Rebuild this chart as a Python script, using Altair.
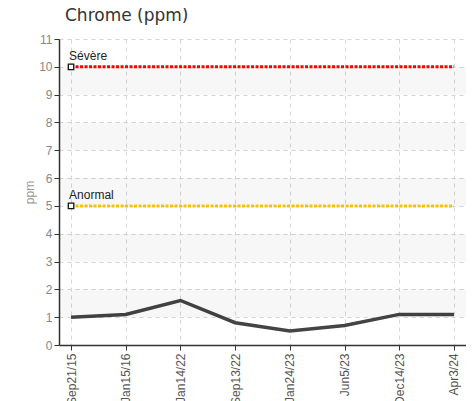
import altair as alt
import pandas as pd

dates = ["Sep21/15", "Jan15/16", "Jan14/22", "Sep13/22", "Jan24/23", "Jun5/23", "Dec14/23", "Apr3/24"]
values = [1.0, 1.1, 1.6, 0.8, 0.5, 0.7, 1.1, 1.1]
limit_names = ["Sévère", "Anormal"]
limit_values = [10, 5]
limit_colors = ["#ff0000", "#f5c400"]
band_lo = [1, 3, 5, 7, 9]
band_hi = [2, 4, 6, 8, 10]
y_ticks = [0, 1, 2, 3, 4, 5, 6, 7, 8, 9, 10, 11]

NARROW = "Liberation Sans Narrow, Liberation Sans, sans-serif"

df = pd.DataFrame({"date": dates, "value": values})
bands = pd.DataFrame({"value": band_lo, "hi": band_hi})
lim_rows = [{"name": n, "value": v, "date": d} for n, v in zip(limit_names, limit_values) for d in dates]
lim_df = pd.DataFrame(lim_rows)
lim_first = pd.DataFrame({"name": limit_names, "value": limit_values, "date": [dates[0]] * len(limit_names)})

xscale = alt.Scale(type="point", domain=dates, padding=0.22)
yscale = alt.Scale(domain=[0, 11], nice=False, zero=True)

x_axis = alt.Axis(
    title=None, labelAngle=270, labelAlign="right", labelBaseline="middle",
    labelFont=NARROW, labelFontSize=12, labelColor="#555", labelPadding=3,
    tickSize=5, tickColor="#333", domainColor="#333", domainWidth=1.5,
    grid=True, gridDash=[4, 4], gridColor="#d6d6d6", labelOverlap=False,
)
y_axis = alt.Axis(
    title="ppm", titleFont=NARROW, titleFontSize=12, titleColor="#999", titleFontWeight="normal",
    titlePadding=2, values=y_ticks, labelOverlap=False,
    labelFont=NARROW, labelFontSize=12, labelColor="#888", labelPadding=2,
    tickSize=5, tickColor="#333", domainColor="#333", domainWidth=1.5,
    grid=True, gridDash=[4, 4], gridColor="#d6d6d6",
)

base_x = alt.X("date:N", scale=xscale, axis=x_axis, sort=dates)
base_y = alt.Y("value:Q", scale=yscale, axis=y_axis)

band_layer = alt.Chart(bands).mark_rect(color="#000", opacity=0.03).encode(
    y=base_y,
    y2="hi:Q",
)

limit_lines = alt.Chart(lim_df).mark_line(strokeWidth=3, strokeDash=[3, 1.5]).encode(
    x=base_x,
    y=base_y,
    color=alt.Color("name:N", scale=alt.Scale(domain=limit_names, range=limit_colors), legend=None),
    detail="name:N",
)

limit_marks = alt.Chart(lim_first).mark_point(shape="square", size=30, filled=True, fill="white",
                                              stroke="#111", strokeWidth=1.3, opacity=1).encode(
    x=base_x,
    y=base_y,
)

limit_text = alt.Chart(lim_first).mark_text(align="left", baseline="bottom", dx=-2, dy=-4,
                                            font=NARROW, fontSize=12, color="#222").encode(
    x=base_x,
    y=base_y,
    text="name:N",
)

data_line = alt.Chart(df).mark_line(color="#444", strokeWidth=3.5).encode(
    x=base_x,
    y=base_y,
)

chart = alt.layer(data_line, band_layer, limit_lines, limit_marks, limit_text).properties(
    width=407,
    height=306,
    autosize=alt.AutoSizeParams(type="none"),
    padding={"left": 51, "top": 31, "right": 0, "bottom": 60},
    title=alt.TitleParams("Chrome (ppm)", anchor="start", frame="group", dx=6, offset=8,
                          font="DejaVu Sans", fontSize=17, fontWeight="normal", color="#333"),
).configure_view(stroke=None)

chart.save("out.html", embed_options={"renderer": "svg", "actions": False})
